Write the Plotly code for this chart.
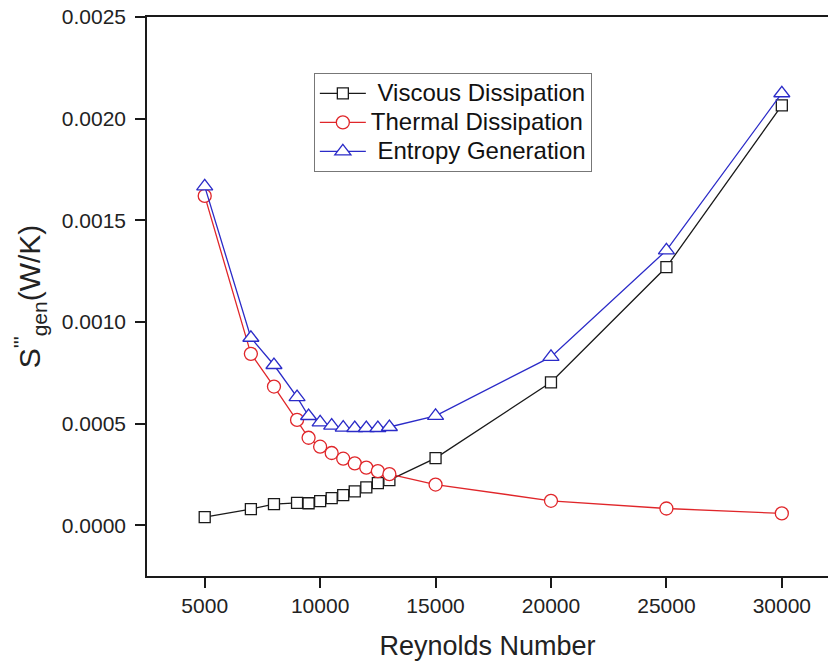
import plotly.graph_objects as go

# Reynolds numbers of the simulated cases
reynolds = [5000, 7000, 8000, 9000, 9500, 10000, 10500, 11000, 11500,
            12000, 12500, 13000, 15000, 20000, 25000, 30000]

# Volumetric entropy generation components, W/K
viscous = [0.000040, 0.000079, 0.000104, 0.000110, 0.000108, 0.000118,
           0.000133, 0.000148, 0.000166, 0.000186, 0.000207, 0.000222,
           0.000330, 0.000703, 0.001270, 0.002065]
thermal = [0.001620, 0.000843, 0.000682, 0.000518, 0.000430, 0.000386,
           0.000355, 0.000327, 0.000304, 0.000283, 0.000266, 0.000251,
           0.000200, 0.000120, 0.000082, 0.000058]
entropy = [0.001667, 0.000922, 0.000788, 0.000630, 0.000537, 0.000506,
           0.000490, 0.000480, 0.000478, 0.000478, 0.000478, 0.000483,
           0.000538, 0.000828, 0.001352, 0.002125]

series = [
    ("\u00a0Viscous Dissipation", viscous, "#1a1a1a", "square", 11),
    ("Thermal Dissipation", thermal, "#e0262a", "circle", 13),
    ("\u00a0Entropy Generation", entropy, "#2b2bc8", "triangle-up", 14),
]

FONT = "Liberation Sans, Arial, sans-serif"


def legend_label(text):
    # larger glyphs than the legend's row pitch, for a compact key
    return '<span style="font-size:24px">' + text + "</span>"


fig = go.Figure()
for name, values, color, symbol, size in series:
    fig.add_trace(go.Scatter(
        x=reynolds, y=values, name=legend_label(name), mode="lines+markers",
        line=dict(color=color, width=1.3),
        marker=dict(symbol=symbol, size=size, color="white",
                    line=dict(color=color, width=1.3)),
    ))

axis_common = dict(
    showline=True, linecolor="#1a1a1a", linewidth=1.6,
    ticks="outside", ticklen=10, tickwidth=1.6, tickcolor="#1a1a1a",
    showgrid=False, zeroline=False,
    tickfont=dict(family=FONT, size=21, color="#222"),
)

fig.update_layout(
    width=828, height=664,
    margin=dict(l=147, r=0, t=17, b=88),
    paper_bgcolor="white", plot_bgcolor="white",
    showlegend=True,
    legend=dict(
        x=0.245, y=0.90, xanchor="left", yanchor="top",
        bordercolor="#777", borderwidth=1, bgcolor="white",
        font=dict(family=FONT, size=20, color="#111"),
        tracegroupgap=0, itemwidth=46,
    ),
    xaxis=dict(
        axis_common, range=[2500, 32000], tick0=5000, dtick=5000,
        tickformat="d", mirror=True,
        title=dict(text="Reynolds Number", standoff=20,
                   font=dict(family=FONT, size=27, color="#222")),
    ),
    yaxis=dict(
        axis_common, range=[-0.00025, 0.0025], tick0=0, dtick=0.0005,
        tickformat=".4f", ticklabelstandoff=5,
        title=dict(text="S<sup>'''</sup><sub>gen</sub>(W/K)", standoff=12,
                   font=dict(family=FONT, size=30, color="#222")),
    ),
)

fig.write_html("out.html")
